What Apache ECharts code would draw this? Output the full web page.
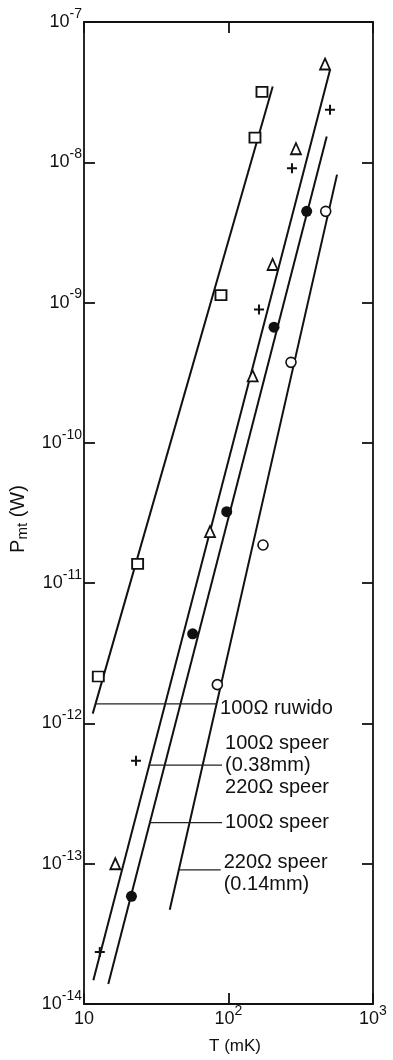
<!DOCTYPE html>
<html>
<head>
<meta charset="utf-8">
<script src="https://cdn.jsdelivr.net/npm/echarts@6/dist/echarts.min.js"></script>
<style>
  html, body { margin: 0; padding: 0; background: #fff; }
  #chart { width: 393px; height: 1060px; }
</style>
</head>
<body>
<div id="chart"></div>
<script>
// Measured heat leak P_mt (W) versus temperature T (mK) for five thermometer wirings
const ruwidoT   = [170.5, 152.5, 88.7, 23.5, 12.56];                 // 100Ω ruwido (squares)
const ruwidoP   = [3.18e-8, 1.50e-8, 1.13e-9, 1.37e-11, 2.16e-12];
const speer220T = [465.6, 293, 202, 147, 74.5, 16.47];               // 220Ω speer (triangles)
const speer220P = [5.02e-8, 1.25e-8, 1.87e-9, 3.0e-10, 2.33e-11, 1.0e-13];
const speer038T = [504, 275, 162.6, 22.9, 12.86];                    // 100Ω speer 0.38mm (plus)
const speer038P = [2.37e-8, 9.08e-9, 8.93e-10, 5.42e-13, 2.35e-14];
const speer100T = [347.5, 206.5, 97.2, 56.5, 21.3];                  // 100Ω speer (filled circles)
const speer100P = [4.47e-9, 6.68e-10, 3.23e-11, 4.35e-12, 5.86e-14];
const speer014T = [470.7, 270.7, 173.3, 83.7];                       // 220Ω speer 0.14mm (open circles)
const speer014P = [4.47e-9, 3.75e-10, 1.87e-11, 1.89e-12];

// Straight-line fits on log-log axes: end points (T, P)
const fitRuwidoT = [11.49, 202.3];
const fitRuwidoP = [1.175e-12, 3.47e-8];
const fit038T = [11.6, 504];
const fit038P = [1.475e-14, 4.55e-8];
const fit100T = [14.72, 478.3];
const fit100P = [1.39e-14, 1.53e-8];
const fit014T = [39.2, 563.7];
const fit014P = [4.69e-14, 8.17e-9];

// Caption leaders: horizontal strokes from each fit line to its caption
const leaderT = [[12.03, 83.3], [28.27, 90.2], [28.5, 90.2], [45.3, 88.3]];
const leaderP = [1.38e-12, 5.04e-13, 1.96e-13, 9.03e-14];
const captions = ['100Ω ruwido', '100Ω speer\n(0.38mm)\n220Ω speer', '100Ω speer', '220Ω speer\n(0.14mm)'];

const xRange = [10, 1000];
const yRange = [1e-14, 1e-7];

const INK = '#111';
const FONT = 'Liberation Sans';

const pairs = (xs, ys) => xs.map((x, i) => [x, ys[i]]);

function powLabel(v) {
  const e = Math.round(Math.log10(v));
  if (e === 1) return '{b|10}';
  return '{b|10}{s|' + (e < 0 ? '-' + (-e) : String(e)) + '}';
}
const powRich = {
  b: { fontSize: 18, lineHeight: 30, fontFamily: FONT, color: INK },
  s: { fontSize: 14, lineHeight: 16, verticalAlign: 'top', fontFamily: FONT, color: INK }
};

const axisLine = { show: true, lineStyle: { color: INK, width: 1.8 } };
const axisTick = { show: true, inside: true, length: 11, lineStyle: { color: INK, width: 1.8 } };

const fitStyle = { color: INK, width: 2 };
function fitSeries(xs, ys) {
  return {
    type: 'line', data: pairs(xs, ys), showSymbol: false, silent: true,
    lineStyle: fitStyle, z: 2, animation: false
  };
}

const captionOffsets = [[0, 5], [0, 0], [0, 0], [0, 4]];
const leaderSeries = captions.map((txt, i) => ({
  type: 'line',
  data: leaderT[i].map(t => [t, leaderP[i]]),
  showSymbol: false, silent: true, animation: false, z: 2,
  lineStyle: { color: '#222', width: 1.3 },
  endLabel: {
    show: true, formatter: txt, distance: 3, offset: captionOffsets[i],
    fontSize: 20, lineHeight: 22, fontFamily: FONT, color: INK, align: 'left'
  }
}));

function markers(xs, ys, symbol, size, fill, border) {
  return {
    type: 'scatter', data: pairs(xs, ys), symbol: symbol, symbolSize: size,
    itemStyle: { color: fill, borderColor: INK, borderWidth: border, opacity: 1 },
    z: 5, animation: false, silent: true
  };
}
const plusPath = 'path://M4,0H6V4H10V6H6V10H4V6H0V4H4Z';

const chart = echarts.init(document.getElementById('chart'), null, { renderer: 'canvas' });
chart.setOption({
  backgroundColor: '#fff',
  animation: false,
  grid: { left: 84, right: 20, top: 22, bottom: 54, containLabel: false },
  xAxis: [
    {
      type: 'log', logBase: 10, min: xRange[0], max: xRange[1], splitNumber: 2, position: 'bottom',
      axisLine: axisLine, axisTick: axisTick, splitLine: { show: false }, minorTick: { show: false },
      axisLabel: { margin: 0, formatter: powLabel, rich: powRich },
      name: 'T (mK)', nameLocation: 'middle', nameGap: 34,
      nameTextStyle: { fontSize: 17, fontFamily: FONT, color: INK, padding: [0, 0, 0, 13] }
    },
    {
      type: 'log', logBase: 10, min: xRange[0], max: xRange[1], splitNumber: 2, position: 'top',
      axisLine: axisLine, axisTick: axisTick, axisLabel: { show: false }, splitLine: { show: false }
    }
  ],
  yAxis: [
    {
      type: 'log', logBase: 10, min: yRange[0], max: yRange[1], splitNumber: 7, position: 'left',
      axisLine: axisLine, axisTick: axisTick, splitLine: { show: false }, minorTick: { show: false },
      axisLabel: { margin: 2, formatter: powLabel, rich: powRich },
      name: '{p|P}{s|mt}{w| (W)}', nameLocation: 'middle', nameRotate: 90, nameGap: 52,
      nameTextStyle: {
        padding: [0, 12, 0, 0],
        rich: {
          p: { fontSize: 20, lineHeight: 24, fontFamily: FONT, color: INK },
          s: { fontSize: 15, lineHeight: 16, verticalAlign: 'bottom', fontFamily: FONT, color: INK },
          w: { fontSize: 20, lineHeight: 24, fontFamily: FONT, color: INK }
        }
      }
    },
    {
      type: 'log', logBase: 10, min: yRange[0], max: yRange[1], splitNumber: 7, position: 'right',
      axisLine: axisLine, axisTick: axisTick, axisLabel: { show: false }, splitLine: { show: false }
    }
  ],
  series: [
    fitSeries(fitRuwidoT, fitRuwidoP),
    fitSeries(fit038T, fit038P),
    fitSeries(fit100T, fit100P),
    fitSeries(fit014T, fit014P),
    ...leaderSeries,
    markers(ruwidoT, ruwidoP, 'rect', [11, 10], '#fff', 1.8),
    markers(speer220T, speer220P, 'triangle', [10, 11], '#fff', 1.8),
    markers(speer038T, speer038P, plusPath, 10, INK, 0),
    markers(speer100T, speer100P, 'circle', 11, INK, 0),
    markers(speer014T, speer014P, 'circle', 10, '#fff', 1.6)
  ]
});
</script>
</body>
</html>
